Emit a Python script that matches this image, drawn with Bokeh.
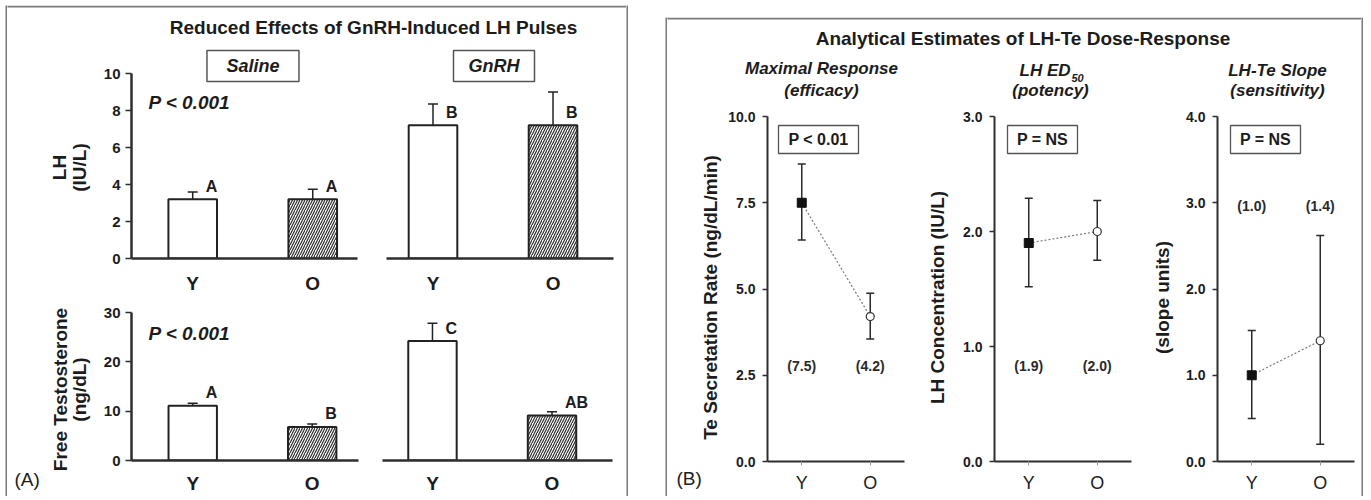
import math
from bokeh.plotting import figure
from bokeh.layouts import row, column
from bokeh.models import Range1d, FixedTicker, Spacer, ColumnDataSource, NumeralTickFormatter
from bokeh.embed import file_html
from bokeh.resources import INLINE
from bokeh.core.properties import value

# ---------------- data ----------------
groups = ["Y", "O"]

# Panel A: bar means and upper end of error bars
lh_saline = [3.2, 3.2]
lh_saline_hi = [3.6, 3.75]
lh_saline_letters = ["A", "A"]
lh_gnrh = [7.2, 7.2]
lh_gnrh_hi = [8.35, 9.0]
lh_gnrh_letters = ["B", "B"]
ft_saline = [11.1, 6.8]
ft_saline_hi = [11.6, 7.4]
ft_saline_letters = ["A", "B"]
ft_gnrh = [24.2, 9.1]
ft_gnrh_hi = [27.8, 9.9]
ft_gnrh_letters = ["C", "AB"]
lh_ticks = [0, 2, 4, 6, 8, 10]
ft_ticks = [0, 10, 20, 30]
p_text_a = "P < 0.001"

# Panel B: estimates with lower/upper limits
te_rate = [7.5, 4.2]
te_lo = [6.42, 3.55]
te_hi = [8.62, 4.88]
ed50 = [1.9, 2.0]
ed50_lo = [1.52, 1.75]
ed50_hi = [2.29, 2.27]
slope = [1.0, 1.4]
slope_lo = [0.5, 0.2]
slope_hi = [1.52, 2.62]
te_ticks = [0.0, 2.5, 5.0, 7.5, 10.0]
ed50_ticks = [0.0, 1.0, 2.0, 3.0]
slope_ticks = [0.0, 1.0, 2.0, 3.0, 4.0]
p_texts_b = ["P < 0.01", "P = NS", "P = NS"]

# ---------------- style ----------------
FONT = "Liberation Sans"
INK = "#1c1c1c"
AXC = "#2e2e2e"
BORDER = "#7a7a7a"


class Frame:
    """maps reference page pixels to data coordinates of a figure frame"""
    def __init__(self, left, top, w, h, xr, yr):
        self.left, self.top, self.w, self.h, self.xr, self.yr = left, top, w, h, xr, yr

    def x(self, px):
        return self.xr[0] + (px - self.left) / self.w * (self.xr[1] - self.xr[0])

    def y(self, py):
        return self.yr[0] + (self.top + self.h - py) / self.h * (self.yr[1] - self.yr[0])


def no_align(p):
    try:
        p.frame_align = False
    except Exception:
        pass


def make_fig(w, h, ml, mr, mt, mb, xr, yr):
    p = figure(width=w, height=h, x_range=Range1d(*xr), y_range=Range1d(*yr),
               min_border_left=ml, min_border_right=mr, min_border_top=mt, min_border_bottom=mb,
               output_backend="svg", toolbar_location=None, title=None)
    no_align(p)
    p.outline_line_color = None
    p.xgrid.visible = False
    p.ygrid.visible = False
    p.background_fill_color = "white"
    p.border_fill_color = "white"
    return p


def blank_fig(w, h, fill="white", ox=0, oy=0):
    """figure whose data coordinates are reference page pixels (origin ox, oy)"""
    p = figure(width=w, height=h, x_range=Range1d(ox, ox + w), y_range=Range1d(oy + h, oy),
               min_border_left=0, min_border_right=0, min_border_top=0, min_border_bottom=0,
               x_axis_type=None, y_axis_type=None,
               output_backend="svg", toolbar_location=None, title=None)
    no_align(p)
    p.outline_line_color = None
    p.xgrid.visible = False
    p.ygrid.visible = False
    p.background_fill_color = fill
    p.border_fill_color = fill
    return p


def txt(p, x, y, s, size, style="bold", align="center", baseline="middle", angle=0, color=INK):
    p.text(x=[x], y=[y], text=[s], text_font=value(FONT), text_font_size=value(size),
           text_font_style=style, text_align=align, text_baseline=baseline, angle=angle,
           text_color=color)


def style_x_axis(p, standoff, label_size, label_style, tick_out):
    ax = p.xaxis[0]
    ax.ticker = FixedTicker(ticks=[i + 1 for i in range(len(groups))])
    ax.major_label_overrides = {i + 1: g for i, g in enumerate(groups)}
    ax.major_label_text_font = FONT
    ax.major_label_text_font_size = label_size
    ax.major_label_text_font_style = label_style
    ax.major_label_text_color = INK
    ax.major_label_standoff = standoff
    ax.major_tick_in = 0
    ax.major_tick_out = tick_out
    ax.major_tick_line_color = "#9a9a9a" if tick_out else None
    ax.minor_tick_line_color = None
    ax.axis_line_color = AXC


def style_y_axis(p, ticks, bounds, label_size, tick_out, standoff, lw, fmt=None):
    ax = p.yaxis[0]
    ax.ticker = FixedTicker(ticks=ticks)
    ax.bounds = bounds
    ax.major_label_text_font = FONT
    ax.major_label_text_font_size = label_size
    ax.major_label_text_font_style = "bold"
    ax.major_label_text_color = INK
    ax.major_label_standoff = standoff
    ax.major_tick_in = 0
    ax.major_tick_out = tick_out
    ax.major_tick_line_color = AXC
    ax.major_tick_line_width = 1.5
    ax.minor_tick_line_color = None
    ax.axis_line_color = AXC
    ax.axis_line_width = lw
    if fmt:
        ax.formatter = NumeralTickFormatter(format=fmt)


def bar_panel(fr, w, h, ml, mr, mt, mb, vals, his, letters, ticks, show_y, xstand):
    p = make_fig(w, h, ml, mr, mt, mb, fr.xr, fr.yr)
    xs = [i + 1 for i in range(len(groups))]
    src = ColumnDataSource(dict(x=xs, top=vals, hi=his, letter=letters,
                                hatch=[" ", "/"]))
    p.vbar(x="x", top="top", width=0.405, bottom=0, source=src, fill_color="white",
           line_color="#222222", line_width=2, hatch_pattern="hatch", hatch_color="#2a2a2a",
           hatch_scale=5, hatch_weight=1.2)
    p.segment(x0="x", y0="top", x1="x", y1="hi", source=src, line_color="#222222", line_width=1.5)
    p.scatter(x="x", y="hi", source=src, marker="dash", size=10, line_color="#222222",
              line_width=1.5)
    p.text(x="x", y="top", text="letter", source=src, x_offset=13, y_offset=-13,
           text_font=value(FONT), text_font_size=value("16px"), text_font_style="bold",
           text_align="left", text_baseline="middle", text_color=INK)
    style_x_axis(p, xstand, "19px", "bold", 0)
    p.xaxis[0].axis_line_width = 2.5
    if show_y:
        style_y_axis(p, ticks, (ticks[0], ticks[-1]), "15px", 6, 5, 2.5)
    else:
        p.yaxis.visible = False
    return p


# ---------------- panel A ----------------
frTL = Frame(130, 45, 227, 213, (0.49, 2.373), (0, 10 * 213 / 185))
frTR = Frame(386, 45, 227, 213, (0.6125, 2.504), (0, 10 * 213 / 185))
frBL = Frame(130, 312, 228, 149, (0.4875, 2.3875), (0, 30))
frBR = Frame(382, 312, 230, 149, (0.582, 2.506), (0, 30))

tl = bar_panel(frTL, 272, 253, 30, 15, 0, 40, lh_saline, lh_saline_hi, lh_saline_letters, lh_ticks, True, 14)
tr = bar_panel(frTR, 254, 253, 14, 13, 0, 40, lh_gnrh, lh_gnrh_hi, lh_gnrh_letters, lh_ticks, False, 14)
bl = bar_panel(frBL, 272, 198, 30, 14, 14, 35, ft_saline, ft_saline_hi, ft_saline_letters, ft_ticks, True, 12)
br = bar_panel(frBR, 254, 198, 10, 14, 14, 35, ft_gnrh, ft_gnrh_hi, ft_gnrh_letters, ft_ticks, False, 12)

# condition boxes
for p, fr, cx, bw, name in [(tl, frTL, 252, 92, "Saline"), (tr, frTR, 493.5, 81, "GnRH")]:
    p.rect(x=[fr.x(cx)], y=[fr.y(65.5)], width=bw, height=31, width_units="screen",
           height_units="screen", fill_color="white", line_color="#555555", line_width=1.5)
    txt(p, fr.x(cx), fr.y(65.5), name, "18px", "bold italic")

txt(tl, frTL.x(147), frTL.y(102), p_text_a, "19px", "bold italic", align="left")
txt(bl, frBL.x(147), frBL.y(333), p_text_a, "19px", "bold italic", align="left")

# y-axis titles of panel A (two rotated lines), in their own strips
ytl = blank_fig(93, 253, ox=7, oy=45)
txt(ytl, 59, 167, "LH", "19px", "bold", angle=math.pi / 2)
txt(ytl, 79, 167, "(IU/L)", "19px", "bold", angle=math.pi / 2)
ybl = blank_fig(93, 198, ox=7, oy=298)
txt(ybl, 60, 389, "Free Testosterone", "19px", "bold", angle=math.pi / 2)
txt(ybl, 79, 389, "(ng/dL)", "19px", "bold", angle=math.pi / 2)
txt(ybl, 14, 479, "(A)", "19px", "normal", align="left")

# header strip, whose top 2 px carry the panel's top border
headL = blank_fig(619, 40, ox=7, oy=5)
headL.quad(left=[0], right=[700], top=[5], bottom=[7], fill_color=BORDER, line_color=None)
txt(headL, 373, 27, "Reduced Effects of GnRH-Induced LH Pulses", "19px", "bold")

innerL = column(headL, row(ytl, tl, tr), row(ybl, bl, br))


# ---------------- panel B ----------------
def dose_panel(fr, w, ml, mr, vals, lo, hi, ticks, ptext, pbox_cx, pbox_w, ann_py):
    p = make_fig(w, 396, ml, mr, 0, 35, fr.xr, fr.yr)
    xs = [i + 1 for i in range(len(groups))]
    src = ColumnDataSource(dict(x=xs, v=vals, lo=lo, hi=hi,
                                ann=["(%.1f)" % v for v in vals]))
    p.line(x="x", y="v", source=src, line_color="#7a7a7a", line_width=1.2, line_dash="2 2")
    p.segment(x0="x", y0="lo", x1="x", y1="hi", source=src, line_color="#2a2a2a", line_width=1.5)
    p.scatter(x="x", y="lo", source=src, marker="dash", size=8, line_color="#2a2a2a", line_width=1.5)
    p.scatter(x="x", y="hi", source=src, marker="dash", size=8, line_color="#2a2a2a", line_width=1.5)
    p.scatter(x=[xs[0]], y=[vals[0]], marker="square", size=9, fill_color="#111111",
              line_color="#111111")
    p.scatter(x=[xs[1]], y=[vals[1]], marker="circle", size=8, fill_color="white",
              line_color="#333333", line_width=1.2)
    p.text(x="x", y=fr.y(ann_py), text="ann", source=src, text_font=value(FONT),
           text_font_size=value("14px"), text_font_style="bold", text_align="center",
           text_baseline="middle", text_color="#2a2a2a")
    p.rect(x=[fr.x(pbox_cx)], y=[fr.y(139)], width=pbox_w, height=28, width_units="screen",
           height_units="screen", fill_color="white", line_color="#555555", line_width=1.3)
    txt(p, fr.x(pbox_cx), fr.y(139), ptext, "16px", "bold")
    style_x_axis(p, 7, "18px", "normal", 4)
    p.xaxis[0].axis_line_width = 2
    style_y_axis(p, ticks, (ticks[0], ticks[-1]), "14px", 5, 7, 2, fmt="0.0")
    return p


def top_of(ticks):
    return ticks[-1] * 361 / 345


fr1 = Frame(767, 100, 137, 361, (0.5, 2.5), (0, top_of(te_ticks)))
fr2 = Frame(994, 100, 137, 361, (0.5, 2.5), (0, top_of(ed50_ticks)))
fr3 = Frame(1217, 100, 137, 361, (0.5, 2.5), (0, top_of(slope_ticks)))

s1 = dose_panel(fr1, 188, 45, 6, te_rate, te_lo, te_hi, te_ticks, p_texts_b[0], 818, 80, 365)
s2 = dose_panel(fr2, 190, 44, 9, ed50, ed50_lo, ed50_hi, ed50_ticks, p_texts_b[1], 1042, 70, 365)
s3 = dose_panel(fr3, 186, 42, 7, slope, slope_lo, slope_hi, slope_ticks, p_texts_b[2], 1265, 70, 205.7)

b1 = blank_fig(55, 396, ox=667, oy=100)
txt(b1, 710, 297, "Te Secretation Rate (ng/dL/min)", "19px", "bold", angle=math.pi / 2)
txt(b1, 676, 478, "(B)", "19px", "normal", align="left")
b2 = blank_fig(40, 396, ox=910, oy=100)
txt(b2, 937, 297, "LH Concentration (IU/L)", "19px", "bold", angle=math.pi / 2)
b3 = blank_fig(35, 396, ox=1140, oy=100)
txt(b3, 1162, 297, "(slope units)", "19px", "bold", angle=math.pi / 2)

headR = blank_fig(694, 83, ox=667, oy=17)
headR.quad(left=[600], right=[1400], top=[17], bottom=[19], fill_color=BORDER, line_color=None)
txt(headR, 1022.5, 38, "Analytical Estimates of LH-Te Dose-Response", "19px", "bold")
txt(headR, 821, 68, "Maximal Response", "17px", "bold italic")
txt(headR, 821, 90, "(efficacy)", "17px", "bold italic")
txt(headR, 1070, 70, "LH ED", "17px", "bold italic", align="right")
txt(headR, 1071, 77, "50", "11px", "bold italic", align="left")
txt(headR, 1050, 90, "(potency)", "17px", "bold italic")
txt(headR, 1277, 70, "LH-Te Slope", "17px", "bold italic")
txt(headR, 1277, 90, "(sensitivity)", "17px", "bold italic")

innerR = column(headR, row(b1, s1, b2, s2, b3, s3))

# ---------------- borders & page ----------------
left_panel = row(blank_fig(2, 491, BORDER), innerL, blank_fig(2, 491, BORDER))
right_panel = column(Spacer(width=698, height=12),
                     row(blank_fig(2, 479, BORDER), innerR, blank_fig(2, 479, BORDER)))
page = column(Spacer(width=1363, height=5),
              row(Spacer(width=5, height=491), left_panel, Spacer(width=37, height=491), right_panel))

open("out.html", "w").write(file_html(page, INLINE))
